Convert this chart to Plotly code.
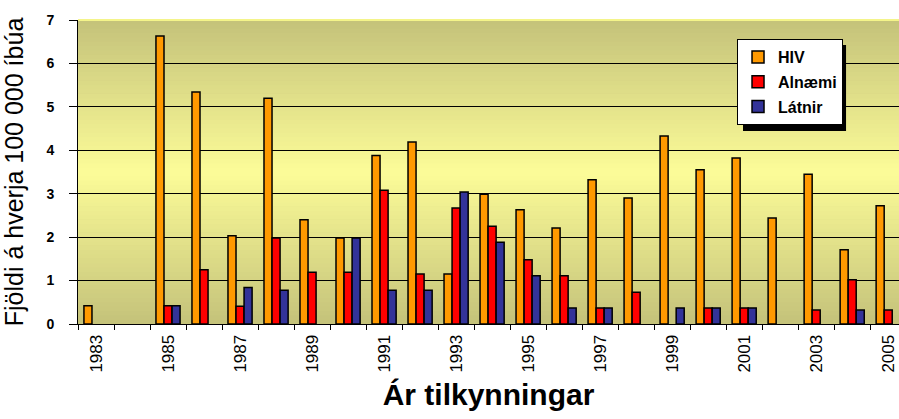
import plotly.graph_objects as go

years = list(range(1983, 2006))
hiv = [0.42, None, 6.63, 5.34, 2.03, 5.20, 2.40, 1.98, 3.88, 4.19, 1.15, 2.99,
       2.63, 2.21, 3.32, 2.90, 4.33, 3.55, 3.82, 2.44, 3.45, 1.71, 2.72]
alnaemi = [None, None, 0.42, 1.25, 0.41, 1.98, 1.19, 1.19, 3.08, 1.15, 2.67, 2.25,
           1.48, 1.11, 0.37, 0.73, None, 0.37, 0.37, None, 0.32, 1.02, 0.32]
latnir = [None, None, 0.42, None, 0.84, 0.78, None, 1.98, 0.78, 0.78, 3.04, 1.88,
          1.11, 0.37, 0.37, None, 0.37, 0.37, 0.37, None, None, 0.32, None]
tick_years = [1983, 1985, 1987, 1989, 1991, 1993, 1995, 1997, 1999, 2001, 2003, 2005]

FONT = "Liberation Sans, Arial, sans-serif"

fig = go.Figure()
series = [("HIV", hiv, "#ff9900"), ("Alnæmi", alnaemi, "#ff0000"), ("Látnir", latnir, "#333399")]
for name, vals, col in series:
    fig.add_trace(go.Bar(x=years, y=vals, name=name, legendgroup=name,
                         marker=dict(color=col, line=dict(color="black", width=1.5))))

# gradient background (olive at edges, light yellow in the middle)
shapes = []
edge = (196, 194, 122)
mid = (252, 252, 152)
N = 70
for k in range(N):
    t0 = k / N
    t1 = (k + 1) / N
    tc = (t0 + t1) / 2
    f = 1 - abs(tc - 0.5) * 2
    c = tuple(int(round(edge[j] + (mid[j] - edge[j]) * f)) for j in range(3))
    shapes.append(dict(type="rect", xref="paper", yref="paper", x0=0, x1=1, y0=t0, y1=t1 + 0.002,
                       fillcolor="rgb(%d,%d,%d)" % c, line=dict(width=0), layer="below"))
shapes.append(dict(type="line", xref="paper", yref="paper", x0=0, x1=1, y0=1, y1=1,
                   line=dict(color="#f4f48a", width=2), layer="above"))
# legend shadow
shapes.append(dict(type="rect", xref="paper", yref="paper", x0=0.810, x1=0.9355, y0=0.635, y1=0.918,
                   fillcolor="black", line=dict(width=0), layer="above"))

fig.update_layout(
    width=899, height=419,
    margin=dict(l=78, r=0, t=20, b=95),
    paper_bgcolor="white",
    plot_bgcolor="#c4c27a",
    barmode="group", bargap=0.33, bargroupgap=0,
    font=dict(family=FONT, color="black"),
    shapes=shapes,
    showlegend=True,
    legend=dict(x=0.8027, y=0.9375, xanchor="left", yanchor="top",
                bgcolor="white", bordercolor="black", borderwidth=1,
                font=dict(family=FONT, size=16, color="black", weight="bold"),
                tracegroupgap=1, itemwidth=30),
    xaxis=dict(range=[1982.5, 2005.3], tickmode="array", tickvals=tick_years,
               ticktext=[str(y) for y in tick_years], tickangle=-90,
               tickfont=dict(size=17, family=FONT), ticks="", ticklabelstandoff=3,
               showline=True, linecolor="black", linewidth=1, showgrid=False, zeroline=False,
               minor=dict(ticks="outside", tick0=1982.5, dtick=1, ticklen=5, tickcolor="black", showgrid=False),
               title=dict(text="<b>Ár tilkynningar</b>", font=dict(size=30, family=FONT), standoff=12)),
    yaxis=dict(range=[0, 7], dtick=1, showgrid=True, gridcolor="black", gridwidth=1,
               showline=True, linecolor="black", linewidth=1, zeroline=False,
               ticks="outside", ticklen=8, tickcolor="black",
               tickfont=dict(size=14, family=FONT, weight="bold"), ticklabelstandoff=12,
               title=dict(text="Fjöldi á hverja 100 000 íbúa", font=dict(size=25, family=FONT), standoff=15)),
)

fig.write_html("out.html", config={"displayModeBar": False},
               post_script="document.body.style.margin='0';document.body.style.padding='0';")
